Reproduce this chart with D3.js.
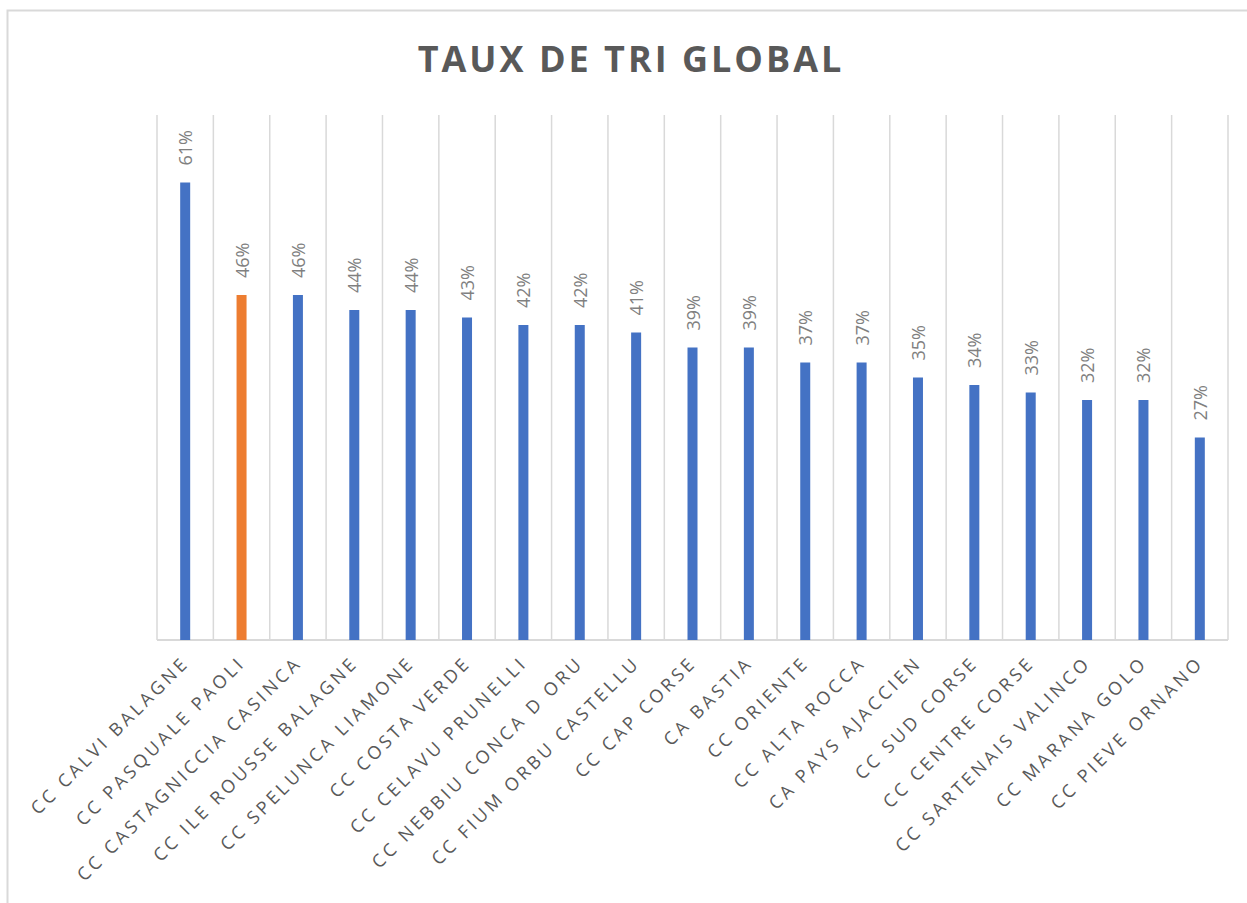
<!DOCTYPE html>
<html>
<head>
<meta charset="utf-8">
<script src="https://cdn.jsdelivr.net/npm/d3@7"></script>
<style>
  body { margin: 0; background: #fff; }
  svg { display: block; }
</style>
</head>
<body>
<script>
// categories and values
var names = [
  "CC CALVI BALAGNE", "CC PASQUALE PAOLI", "CC CASTAGNICCIA CASINCA",
  "CC ILE ROUSSE BALAGNE", "CC SPELUNCA LIAMONE", "CC COSTA VERDE",
  "CC CELAVU PRUNELLI", "CC NEBBIU CONCA D ORU", "CC FIUM ORBU CASTELLU",
  "CC CAP CORSE", "CA BASTIA", "CC ORIENTE", "CC ALTA ROCCA",
  "CA PAYS AJACCIEN", "CC SUD CORSE", "CC CENTRE CORSE",
  "CC SARTENAIS VALINCO", "CC MARANA GOLO", "CC PIEVE ORNANO"
];
var taux = [0.61, 0.46, 0.46, 0.44, 0.44, 0.43, 0.42, 0.42, 0.41,
            0.39, 0.39, 0.37, 0.37, 0.35, 0.34, 0.33, 0.32, 0.32, 0.27];
var highlight = "CC PASQUALE PAOLI";
var title = "TAUX DE TRI GLOBAL";

var W = 1247, H = 903;
// note: "top" is taken by window.top, so plot edges get their own names
var plotL = 157, plotR = 1228, plotT = 115, plotB = 640;

var svg = d3.select("body").append("svg")
    .attr("width", W)
    .attr("height", H);

// chart border (runs off the right and bottom edge)
svg.append("rect")
    .attr("x", 7.5).attr("y", 10.5)
    .attr("width", W + 20).attr("height", H + 20)
    .attr("fill", "#fff")
    .attr("stroke", "#d9d9d9")
    .attr("stroke-width", 2);

var x = d3.scaleBand().domain(names).range([plotL, plotR]);
var y = d3.scaleLinear().domain([0, 0.7]).range([plotB, plotT]);

// vertical gridlines at category boundaries
var edges = names.map(function(n){ return x(n); }).concat([plotR]);
svg.append("g").selectAll("line")
    .data(edges)
    .enter().append("line")
    .attr("x1", function(d){ return d; })
    .attr("x2", function(d){ return d; })
    .attr("y1", plotT)
    .attr("y2", plotB)
    .attr("stroke", "#d9d9d9")
    .attr("stroke-width", 1.5);

// baseline
svg.append("line")
    .attr("x1", plotL).attr("x2", plotR)
    .attr("y1", plotB).attr("y2", plotB)
    .attr("stroke", "#d9d9d9")
    .attr("stroke-width", 2);

var barW = 10;
svg.append("g").selectAll("rect")
    .data(names)
    .enter().append("rect")
    .attr("x", function(d){ return x(d) + x.bandwidth()/2 - barW/2; })
    .attr("y", function(d, i){ return y(taux[i]); })
    .attr("width", barW)
    .attr("height", function(d, i){ return plotB - y(taux[i]); })
    .attr("fill", function(d){ return d == highlight ? "#ed7d31" : "#4472c4"; });

// value labels, rotated
svg.append("g").selectAll("text")
    .data(names)
    .enter().append("text")
    .attr("transform", function(d, i){
      return "translate(" + (x(d) + x.bandwidth()/2 + 7) + "," + (y(taux[i]) - 17) + ") rotate(-90)";
    })
    .attr("text-anchor", "start")
    .attr("font-family", "'Open Sans', sans-serif")
    .attr("font-size", "18px")
    .attr("fill", "#808080")
    .text(function(d, i){ return d3.format(".0%")(taux[i]); });

// category labels at -45
svg.append("g").selectAll("text")
    .data(names)
    .enter().append("text")
    .attr("transform", function(d){
      return "translate(" + (x(d) + x.bandwidth()/2 + 5) + "," + 664 + ") rotate(-45)";
    })
    .attr("text-anchor", "end")
    .attr("font-family", "'Open Sans', sans-serif")
    .attr("font-size", "18px")
    .attr("letter-spacing", "3.4px")
    .attr("fill", "#595959")
    .text(function(d){ return d; });

svg.append("text")
    .attr("x", 631)
    .attr("y", 72)
    .attr("text-anchor", "middle")
    .attr("font-family", "'Open Sans', sans-serif")
    .attr("font-weight", "bold")
    .attr("font-size", "36px")
    .attr("letter-spacing", "3px")
    .attr("fill", "#595959")
    .text(title);
</script>
</body>
</html>
